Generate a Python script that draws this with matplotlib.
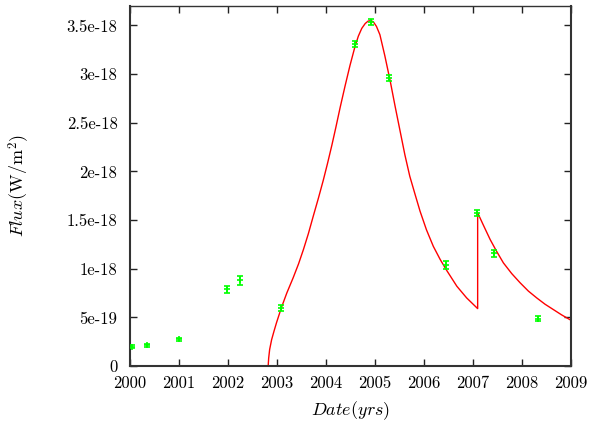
import matplotlib
matplotlib.use("Agg")
import matplotlib.pyplot as plt

# Observed data (years, flux in 1e-18 W/m^2)
obs_year = [2000.05, 2000.34, 2000.99, 2001.97, 2002.24, 2003.09, 2004.60, 2004.91,
            2005.29, 2006.45, 2007.09, 2007.42, 2008.33]
obs_flux = [0.199, 0.212, 0.277, 0.787, 0.88, 0.60, 3.31, 3.535,
            2.96, 1.04, 1.575, 1.157, 0.487]
obs_err = [0.012, 0.012, 0.015, 0.035, 0.045, 0.03, 0.03, 0.03,
           0.03, 0.04, 0.03, 0.04, 0.025]

# Model curve (years, flux in 1e-18 W/m^2)
model_year = [2002.82, 2002.83, 2002.85, 2002.89, 2002.94, 2002.99, 2003.09, 2003.20,
              2003.33, 2003.44, 2003.54, 2003.64, 2003.74, 2003.845, 2003.945, 2004.03,
              2004.12, 2004.20, 2004.29, 2004.39, 2004.49, 2004.59, 2004.66, 2004.73,
              2004.80, 2004.86, 2004.92, 2004.97, 2005.03, 2005.10, 2005.20, 2005.31,
              2005.41, 2005.51, 2005.61, 2005.71, 2005.82, 2005.92, 2006.05, 2006.19,
              2006.33, 2006.46, 2006.67, 2006.87, 2007.095, 2007.095, 2007.20, 2007.35,
              2007.48, 2007.62, 2007.79, 2007.96, 2008.13, 2008.30, 2008.47, 2008.64,
              2008.81, 2009.0]
model_flux = [0.0, 0.08, 0.17, 0.27, 0.36, 0.445, 0.60, 0.75,
              0.907, 1.05, 1.198, 1.36, 1.54, 1.725, 1.91, 2.08,
              2.27, 2.45, 2.66, 2.88, 3.09, 3.28, 3.39, 3.47,
              3.52, 3.545, 3.55, 3.535, 3.49, 3.405, 3.19, 2.93,
              2.67, 2.42, 2.17, 1.95, 1.76, 1.59, 1.40, 1.23,
              1.095, 0.985, 0.82, 0.70, 0.59, 1.575, 1.46, 1.30,
              1.18, 1.06, 0.95, 0.856, 0.77, 0.70, 0.635, 0.58,
              0.525, 0.47]

x_ticks = list(range(2000, 2010))
y_ticks = [0, 0.5, 1.0, 1.5, 2.0, 2.5, 3.0, 3.5]
y_tick_labels = ["0", "5e-19", "1e-18", "1.5e-18", "2e-18", "2.5e-18", "3e-18", "3.5e-18"]

plt.rcParams['font.family'] = ['cmr10', 'DejaVu Serif']
plt.rcParams['mathtext.fontset'] = 'cm'
plt.rcParams['axes.unicode_minus'] = False

fig = plt.figure(figsize=(5.91, 4.21), dpi=100)
ax = fig.add_axes([130/591, 1-366/421, (571-130)/591, (366-6)/421])

ax.plot(model_year, model_flux, color='#ff0000', lw=1.0, zorder=2)
ax.errorbar(obs_year, obs_flux, yerr=obs_err, fmt='+', color='#00ff00',
            ms=5, mew=1.2, elinewidth=1.2, capsize=2.5, capthick=1.2, zorder=3)

ax.set_xlim(2000, 2009)
ax.set_ylim(0, 3.70)
ax.set_xticks(x_ticks)
ax.set_xticklabels([str(t) for t in x_ticks])
ax.set_yticks(y_ticks)
ax.set_yticklabels(y_tick_labels)

ax.tick_params(direction='in', length=5, width=1, top=True, right=True,
               labelsize=12, colors='#222222', labelcolor='black')
ax.tick_params(axis='y', pad=9)
ax.tick_params(axis='x', pad=7)
for s in ax.spines.values():
    s.set_linewidth(1.5)
    s.set_color('#333333')
ax.spines['top'].set_linewidth(1.0)

ax.set_xlabel(r'$Date(yrs)$', fontsize=13, labelpad=6)
ax.set_ylabel(r'$Flux$(W/m$^{2}$)', fontsize=13, labelpad=25)

fig.savefig('out.png', dpi=100)
